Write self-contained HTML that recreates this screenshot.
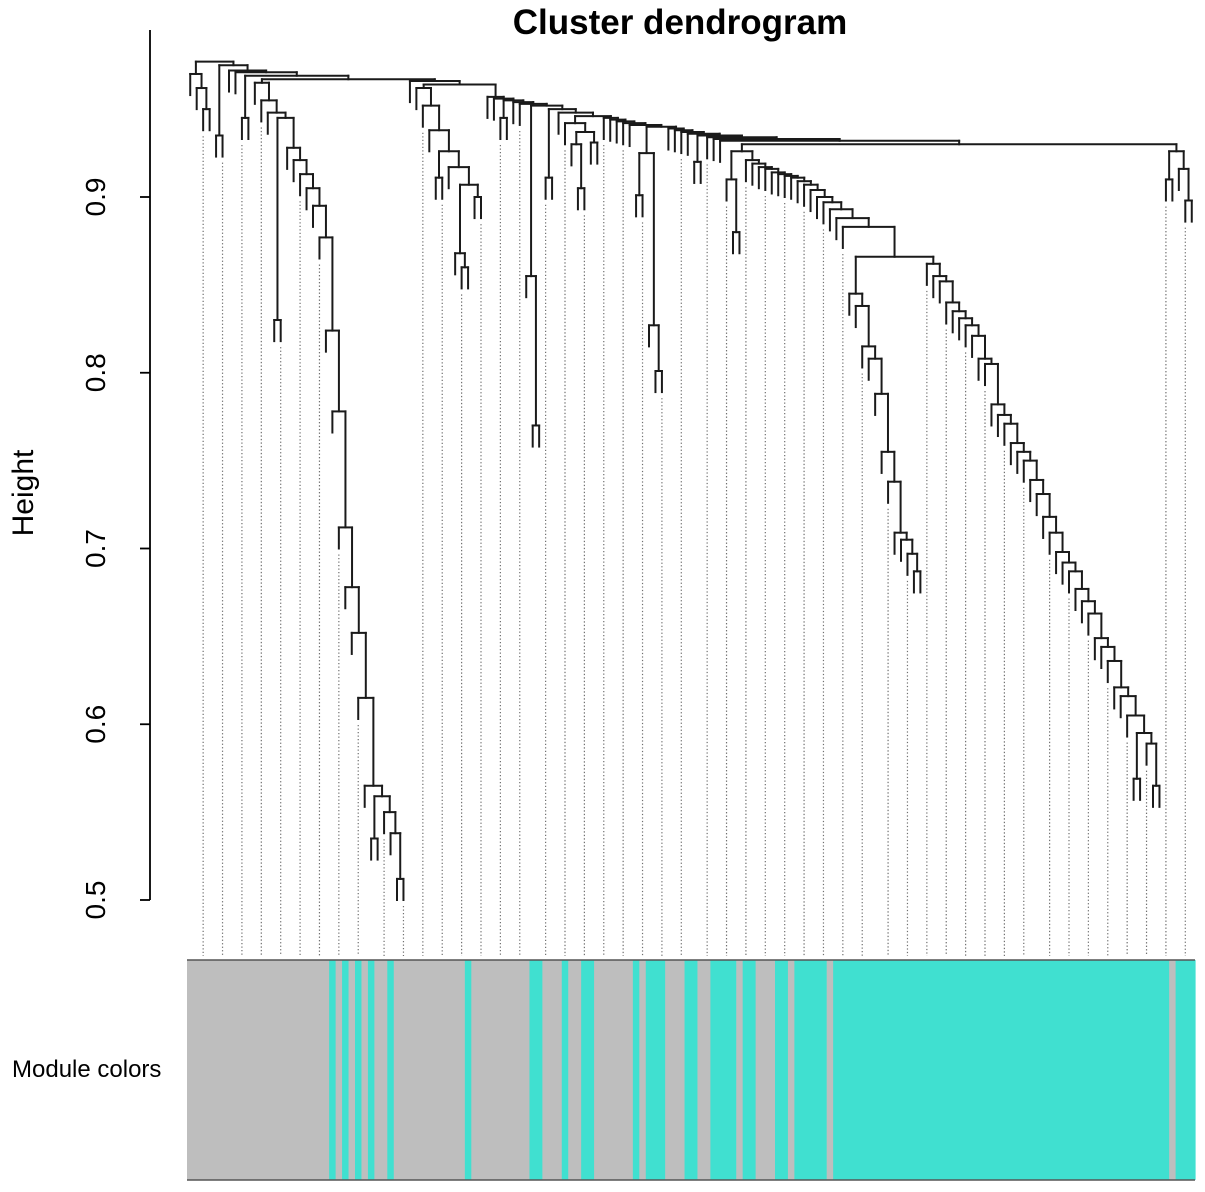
<!DOCTYPE html>
<html><head><meta charset="utf-8"><title>Cluster dendrogram</title>
<style>
html,body{margin:0;padding:0;background:#fff;}
svg{display:block;font-family:"Liberation Sans",Arial,sans-serif;}
</style></head>
<body>
<svg id="chart" width="1205" height="1192" viewBox="0 0 1205 1192" xmlns="http://www.w3.org/2000/svg">
  <text x="680" y="34" text-anchor="middle" font-size="35" font-weight="bold" fill="#000">Cluster dendrogram</text>
  <text transform="translate(33,493) rotate(-90)" text-anchor="middle" font-size="30" fill="#000">Height</text>
  <text x="12" y="1077" font-size="24" fill="#000">Module colors</text>
  <g id="axis"></g>
  <g id="guides"></g>
  <g id="tree"></g>
  <g id="bar"></g>
</svg>
<script>
// ---- data ----
const yTicks = [0.5, 0.6, 0.7, 0.8, 0.9];
const yTickLabels = ["0.5", "0.6", "0.7", "0.8", "0.9"];
const hang = 0.012;
const chainCHeights = [0.928,0.921,0.913,0.905,0.895,0.877,0.824,0.778,0.712,0.678,0.652,0.615,0.565];
const chainTHeights = [0.921,0.919,0.917,0.916,0.914,0.913,0.912,0.911,0.909,0.907,0.904,0.900,0.897,0.893,0.888,0.883];
const chainVHeights = [0.845,0.838,0.815,0.808,0.788,0.755,0.738,0.709,0.705,0.697];
const chainWHeights = [0.862,0.855,0.852,0.840,0.835,0.831,0.827,0.821,0.808,0.805,0.782,0.776,0.771,0.760,0.755,0.750,0.739,0.731,0.718,0.709,0.698,0.692,0.687,0.677,0.670,0.663,0.649,0.644,0.636,0.621,0.616,0.605];
const topHeights = [0.977,0.975,0.972,0.971,0.969,0.967,0.966,0.964,0.957,0.956,0.955,0.954,0.953,0.952,0.950,0.948,0.946,0.945,0.944,0.943,0.942,0.941,0.940,0.939,0.938,0.937,0.936,0.935,0.934,0.933,0.932];
const rootHeight = 0.930;
const moduleRunColors = ["grey","turquoise","grey","turquoise","grey","turquoise","grey","turquoise","grey","turquoise","grey","turquoise","grey","turquoise","grey","turquoise","grey","turquoise","grey","turquoise","grey","turquoise","grey","turquoise","grey","turquoise","grey","turquoise","grey","turquoise","grey","turquoise","grey","turquoise","grey","turquoise"];
const moduleRunLengths = [22,1,1,1,1,1,1,1,2,1,11,1,9,2,3,1,2,2,6,1,1,3,3,2,2,4,1,2,3,2,1,5,1,52,1,3];

function chain(hs, tail){ let n = tail; for(let i=hs.length-1;i>=0;i--) n=[hs[i],0,n]; return n; }
const A1 = [0.970,0,[0.962,0,[0.950,0,0]]];
const C = chain(chainCHeights, [0.559,[0.535,0,0],[0.55,0,[0.538,0,[0.512,0,0]]]]);
const B = [0.965,0,[0.955,0,[0.948,0,[0.945,[0.83,0,0],C]]]];
const E = [0.962,0,[0.952,0,[0.938,0,[0.926,[0.911,0,0],[0.917,0,[0.907,[0.868,0,[0.86,0,0]],[0.90,0,0]]]]]]];
const F = [0.855,0,[0.77,0,0]];
const G = [0.942,0,[0.937,[0.930,0,[0.905,0,0]],[0.931,0,0]]];
const D = [0.925,[0.901,0,0],[0.827,0,[0.801,0,0]]];
const V = chain(chainVHeights, [0.687,0,0]);
const W = chain(chainWHeights, [0.595,[0.569,0,0],[0.589,0,[0.565,0,0]]]);
const U = [0.866, V, W];
const T = chain(chainTHeights, U);
const SLast = [0.926,[0.910,0,[0.88,0,0]],T];
const R = [0.926,[0.91,0,0],[0.916,0,[0.898,0,0]]];
const topChildren = [A1,[0.935,0,0],0,0,[0.945,0,0],B,0,E,0,0,[0.945,0,0],0,0,F,[0.911,0,0],0,G,0,0,0,0,0,D,0,0,0,0,[0.92,0,0],0,0,0];

// ---- build full tree ----
let root = [rootHeight, SLast, R];
for(let i=topHeights.length-1;i>=0;i--) root=[topHeights[i], topChildren[i], root];

// ---- scales ----
const X0 = 187, X1 = 1195;
function countLeaves(n){ return n===0 ? 1 : countLeaves(n[1])+countLeaves(n[2]); }
const N = countLeaves(root);
const step = (X1-X0)/N;
function yS(v){ return 197 + (0.9 - v)*1757.5; }
const NS = "http://www.w3.org/2000/svg";
function mk(tag, attrs, parent){ const e=document.createElementNS(NS,tag); for(const k in attrs) e.setAttribute(k,attrs[k]); parent.appendChild(e); return e; }

// ---- axis ----
const axisG = document.getElementById('axis');
const axLine = mk('line',{x1:150,y1:30,x2:150,y2:yS(0.5),stroke:'#000','stroke-width':1.8},axisG);


yTicks.forEach((t,i)=>{
  const tk = mk('line',{x1:140,y1:yS(t),x2:150,y2:yS(t),stroke:'#000','stroke-width':1.8},axisG);
  
  
  const lb = mk('text',{transform:`translate(105,${yS(t)}) rotate(-90)`,'text-anchor':'middle','font-size':28,fill:'#000'},axisG);
  lb.textContent = yTickLabels[i];
  
  
});

// ---- dendrogram ----
const treeG = document.getElementById('tree');
const leafBottom = [];
let leafIdx = 0;
function seg(x1,y1,x2,y2,name){
  const l = mk('line',{x1:x1,y1:y1,x2:x2,y2:y2,stroke:'#1a1a1a','stroke-width':2,'stroke-linecap':'square'},treeG);
  
  
}
function draw(n, parentH){
  if(n===0){
    const x = X0 + (leafIdx+0.5)*step;
    const yb = yS(parentH - hang);
    seg(x, yS(parentH), x, yb, 'leaf-branch');
    leafBottom.push({x:x, y:yb});
    leafIdx++;
    return x;
  }
  const h = n[0];
  const xl = draw(n[1], h);
  const xr = draw(n[2], h);
  seg(xl, yS(h), xr, yS(h), 'merge-branch');
  const x = (xl+xr)/2;
  if(parentH !== null) seg(x, yS(parentH), x, yS(h), 'node-stem');
  return x;
}
draw(root, null);

// ---- guides ----
const guideG = document.getElementById('guides');
for(let k=0;k<50;k++){
  const i = Math.min(N-1, Math.floor(k*N/50)+2);
  const lf = leafBottom[i];
  const g = mk('line',{x1:lf.x,y1:lf.y+6,x2:lf.x,y2:956,stroke:'#707070','stroke-width':1.2,'stroke-dasharray':'1.3 2.2'},guideG);
  
  
}

// ---- module color bar ----
const barG = document.getElementById('bar');
const colMap = {grey:'#bebebe', turquoise:'#40e0d0'};
const leafColors = [];
moduleRunColors.forEach((c,i)=>{ for(let j=0;j<moduleRunLengths[i];j++) leafColors.push(c); });
while(leafColors.length<N) leafColors.push(moduleRunColors[moduleRunColors.length-1]);
for(let i=0;i<N;i++){
  const r = mk('rect',{x:X0+i*step,y:960,width:step+0.6,height:220,fill:colMap[leafColors[i]]},barG);
  
  
}
const bt = mk('line',{x1:X0,y1:960,x2:X1,y2:960,stroke:'#555','stroke-width':1.5},barG);


const bb = mk('line',{x1:X0,y1:1180,x2:X1,y2:1180,stroke:'#555','stroke-width':1.5},barG);


</script>
</body></html>
